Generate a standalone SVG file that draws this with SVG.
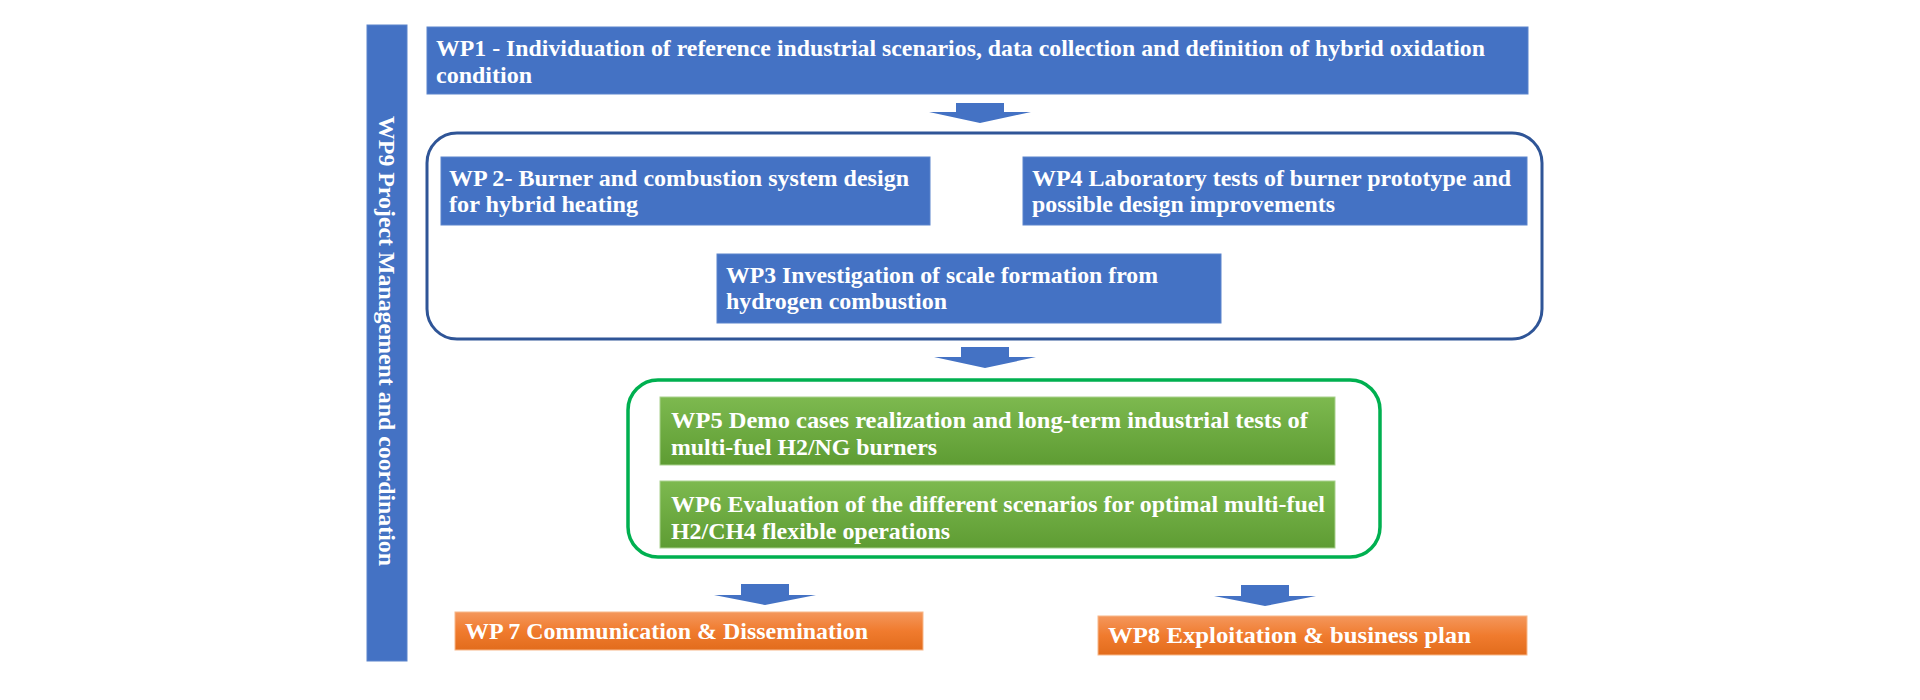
<svg xmlns="http://www.w3.org/2000/svg" width="1920" height="700" viewBox="0 0 1920 700">
<defs>
<linearGradient id="gGreen" x1="0" y1="0" x2="0" y2="1">
<stop offset="0" stop-color="#7DB94F"/>
<stop offset="1" stop-color="#5E9C33"/>
</linearGradient>
<linearGradient id="gOrange" x1="0" y1="0" x2="0" y2="1">
<stop offset="0" stop-color="#F4975C"/>
<stop offset="0.5" stop-color="#F07B2E"/>
<stop offset="1" stop-color="#E26C1C"/>
</linearGradient>
<style>
.blue{fill:#4472C4;stroke:#5B84CC;stroke-width:1}
.green{fill:url(#gGreen);stroke:#A9D18E;stroke-width:1}
.orange{fill:url(#gOrange);stroke:#F8B88A;stroke-width:1}
.t{font-family:"Liberation Serif","Times New Roman",serif;font-weight:bold;font-size:24px;fill:#FFFFFF}
.arrow{fill:#4472C4}
</style>
</defs>
<rect width="1920" height="700" fill="#FFFFFF"/>

<g id="wp9">
<rect class="blue" x="367" y="25" width="40" height="636"/>
<text class="t" transform="translate(379,341) rotate(90)" text-anchor="middle" textLength="450" lengthAdjust="spacingAndGlyphs">WP9 Project Management and coordination</text>
</g>

<g id="wp1">
<rect class="blue" x="427" y="27" width="1101" height="67"/>
<text class="t" x="436" y="56" textLength="1049" lengthAdjust="spacingAndGlyphs">WP1 - Individuation of reference industrial scenarios, data collection and definition of hybrid oxidation</text>
<text class="t" x="436" y="83" textLength="96" lengthAdjust="spacingAndGlyphs">condition</text>
</g>

<g id="group-design">
<rect x="427" y="133" width="1115" height="206" rx="30" ry="30" fill="none" stroke="#2F5597" stroke-width="3"/>
</g>

<g id="wp2">
<rect class="blue" x="441" y="157" width="489" height="68"/>
<text class="t" x="449" y="186" textLength="460" lengthAdjust="spacingAndGlyphs">WP 2- Burner and combustion system design</text>
<text class="t" x="449" y="212" textLength="189" lengthAdjust="spacingAndGlyphs">for hybrid heating</text>
</g>

<g id="wp4">
<rect class="blue" x="1023" y="157" width="504" height="68"/>
<text class="t" x="1032" y="186" textLength="479" lengthAdjust="spacingAndGlyphs">WP4 Laboratory tests of burner prototype and</text>
<text class="t" x="1032" y="212" textLength="303" lengthAdjust="spacingAndGlyphs">possible design improvements</text>
</g>

<g id="wp3">
<rect class="blue" x="717" y="254" width="504" height="69"/>
<text class="t" x="726" y="283" textLength="432" lengthAdjust="spacingAndGlyphs">WP3 Investigation of scale formation from</text>
<text class="t" x="726" y="309" textLength="221" lengthAdjust="spacingAndGlyphs">hydrogen combustion</text>
</g>

<g id="group-demo">
<rect x="628" y="380" width="752" height="177" rx="30" ry="30" fill="none" stroke="#00B050" stroke-width="3.5"/>
</g>

<g id="wp5">
<rect class="green" x="660" y="397" width="675" height="68"/>
<text class="t" x="671" y="428" textLength="637" lengthAdjust="spacingAndGlyphs">WP5 Demo cases realization and long-term industrial tests of</text>
<text class="t" x="671" y="455" textLength="266" lengthAdjust="spacingAndGlyphs">multi-fuel H2/NG burners</text>
</g>

<g id="wp6">
<rect class="green" x="660" y="481" width="675" height="67"/>
<text class="t" x="671" y="512" textLength="654" lengthAdjust="spacingAndGlyphs">WP6 Evaluation of the different scenarios for optimal multi-fuel</text>
<text class="t" x="671" y="539" textLength="279" lengthAdjust="spacingAndGlyphs">H2/CH4 flexible operations</text>
</g>

<g id="wp7">
<rect class="orange" x="455" y="612" width="468" height="38"/>
<text class="t" x="465" y="639" textLength="403" lengthAdjust="spacingAndGlyphs">WP 7 Communication &amp; Dissemination</text>
</g>

<g id="wp8">
<rect class="orange" x="1098" y="616" width="429" height="39"/>
<text class="t" x="1108" y="643" textLength="363" lengthAdjust="spacingAndGlyphs">WP8 Exploitation &amp; business plan</text>
</g>

<g id="connectors">
<polygon class="arrow" points="956,103 1004,103 1004,112 1031,112 980,123 929,112 956,112"/>
<polygon class="arrow" points="961,347 1009,347 1009,357 1036,357 985,368 934,357 961,357"/>
<polygon class="arrow" points="741,584 789,584 789,595 816,595 765,605 714,595 741,595"/>
<polygon class="arrow" points="1241,585 1289,585 1289,596 1316,596 1265,606 1214,596 1241,596"/>
</g>
</svg>
